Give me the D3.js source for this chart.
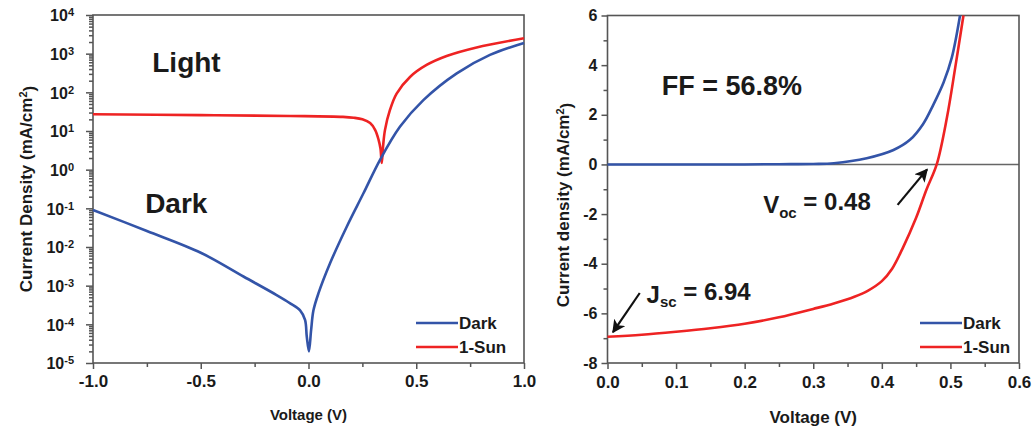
<!DOCTYPE html>
<html lang="en">
<head>
<meta charset="utf-8">
<script src="https://d3js.org/d3.v7.min.js"></script>
<style>
  body { margin: 0; background: #fff; }
  svg text { font-family: "Liberation Sans", Arial, sans-serif; font-weight: bold; fill: #1a1a1a; }
  .frame { fill: none; stroke: #555; stroke-width: 1.6; }
  .axis path { display: none; }
  .axis line { stroke: #555; stroke-width: 1.5; }
  .curve { fill: none; stroke-width: 2.6; stroke-linejoin: round; }
</style>
</head>
<body>
<svg width="1034" height="432"></svg>
<script>
// ---- left panel, log |J| against voltage
var darkLogV = [-1.0, -0.75, -0.5, -0.3, -0.15, -0.085, -0.039, -0.016, -0.008, 0.002, 0.012, 0.023, 0.046, 0.1, 0.178, 0.255, 0.332, 0.425, 0.533, 0.688, 0.842, 1.0];
var darkLogJ = [0.091, 0.026, 0.0071, 0.0017, 5.8e-4, 3.5e-4, 2.3e-4, 1.3e-4, 4.8e-5, 2e-5, 7e-5, 2.3e-4, 6.3e-4, 3.8e-3, 0.034, 0.245, 1.8, 13, 63, 310, 930, 1900];
var sunLogV = [-1.0, -0.5, -0.085, 0.16, 0.21, 0.25, 0.286, 0.309, 0.325, 0.334, 0.34, 0.346, 0.355, 0.378, 0.409, 0.471, 0.548, 0.641, 0.78, 1.0];
var sunLogJ = [27, 25.7, 24.5, 23.2, 22, 20, 16, 10.7, 6, 3.5, 1.5, 4, 10.7, 35, 93, 250, 510, 870, 1450, 2500];

// ---- right panel, linear J against voltage
var darkV = [0.0, 0.1, 0.2, 0.25, 0.3, 0.33, 0.378, 0.417, 0.441, 0.46, 0.475, 0.49, 0.502, 0.514];
var darkJ = [0.0, 0.0, 0.0, 0.01, 0.02, 0.05, 0.25, 0.58, 0.99, 1.62, 2.4, 3.3, 4.3, 6.0];
var sunV = [0.0, 0.05, 0.1, 0.15, 0.2, 0.25, 0.3, 0.33, 0.36, 0.38, 0.40, 0.415, 0.43, 0.45, 0.465, 0.48, 0.495, 0.507, 0.519];
var sunJ = [-6.94, -6.86, -6.74, -6.6, -6.42, -6.16, -5.82, -5.6, -5.33, -5.08, -4.7, -4.2, -3.4, -2.15, -1.02, 0.0, 1.9, 3.9, 6.0];

var seriesNames = ["Dark", "1-Sun"];
var seriesColors = ["#3354a8", "#ee2323"];

var leftXTicks = [-1.0, -0.5, 0.0, 0.5, 1.0];
var leftXMinor = [-0.75, -0.25, 0.25, 0.75];
var leftYExp = [-5, -4, -3, -2, -1, 0, 1, 2, 3, 4];
var rightXTicks = [0.0, 0.1, 0.2, 0.3, 0.4, 0.5, 0.6];
var rightXMinor = [0.05, 0.15, 0.25, 0.35, 0.45, 0.55];
var rightYTicks = [6, 4, 2, 0, -2, -4, -6, -8];
var rightYMinor = [5, 3, 1, -1, -3, -5, -7];

var svg = d3.select("svg");

function pairs(xs, ys) { return xs.map(function(x, i) { return [x, ys[i]]; }); }

// ================= left panel =================
var xL = d3.scaleLinear().domain([-1, 1]).range([93, 524]);
var yL = d3.scaleLog().domain([1e-5, 1e4]).range([363, 15]);

var minorLog = [];
leftYExp.slice(0, -1).forEach(function(e) {
  for (var m = 2; m <= 9; m++) minorLog.push(m * Math.pow(10, e));
});

svg.append("g").attr("class", "axis").attr("transform", "translate(0,363)")
  .call(d3.axisBottom(xL).tickValues(leftXTicks).tickSize(6).tickPadding(6).tickFormat(d3.format(".1f")))
  .selectAll("text").style("font-size", "17px").text(function(d) { return d3.format(".1f")(d).replace("−", "-"); });
svg.append("g").attr("class", "axis").attr("transform", "translate(0,363)")
  .call(d3.axisBottom(xL).tickValues(leftXMinor).tickSize(4).tickFormat(""));

var yAxL = svg.append("g").attr("class", "axis").attr("transform", "translate(93,0)")
  .call(d3.axisLeft(yL).tickValues(leftYExp.map(function(e) { return Math.pow(10, e); })).tickSize(7).tickPadding(12).tickFormat(""));
yAxL.selectAll(".tick text").each(function(d) {
  var t = d3.select(this).style("font-size", "16px").attr("dy", "0.36em");
  t.append("tspan").text("10");
  t.append("tspan").attr("dy", "-0.45em").style("font-size", "11px").text(Math.round(Math.log10(d)));
});
svg.append("g").attr("class", "axis").attr("transform", "translate(93,0)")
  .call(d3.axisLeft(yL).tickValues(minorLog).tickSize(4).tickFormat(""));

svg.append("rect").attr("class", "frame").attr("x", 93).attr("y", 15).attr("width", 524 - 93).attr("height", 363 - 15);

var lineL = d3.line().x(function(d) { return xL(d[0]); }).y(function(d) { return yL(d[1]); }).curve(d3.curveCatmullRom.alpha(0.5));
svg.append("path").attr("class", "curve").attr("stroke", seriesColors[1]).attr("d", lineL(pairs(sunLogV, sunLogJ)));
svg.append("path").attr("class", "curve").attr("stroke", seriesColors[0]).attr("d", lineL(pairs(darkLogV, darkLogJ)));

svg.append("text").attr("x", xL(-0.725)).attr("y", yL(340)).style("font-size", "28px").text("Light");
svg.append("text").attr("x", xL(-0.758)).attr("y", yL(0.076)).style("font-size", "28px").text("Dark");

svg.append("text").attr("x", (93 + 524) / 2).attr("y", 420).attr("text-anchor", "middle")
  .style("font-size", "15px").text("Voltage (V)");
var ylabL = svg.append("text").attr("transform", "translate(32,189) rotate(-90)").attr("text-anchor", "middle")
  .style("font-size", "17px");
ylabL.append("tspan").text("Current Density (mA/cm");
ylabL.append("tspan").attr("dy", "-0.5em").style("font-size", "11px").text("2");
ylabL.append("tspan").attr("dy", "0.5em").text(")");

function legend(x0, y0) {
  seriesNames.forEach(function(name, i) {
    var y = y0 + i * 24;
    svg.append("line").attr("x1", x0).attr("x2", x0 + 42).attr("y1", y).attr("y2", y)
      .attr("stroke", seriesColors[i]).attr("stroke-width", 2.6);
    svg.append("text").attr("x", x0 + 43).attr("y", y + 6).style("font-size", "17px").text(name);
  });
}
legend(416, 323);

// ================= right panel =================
var xR = d3.scaleLinear().domain([0, 0.6]).range([607.5, 1019]);
var yR = d3.scaleLinear().domain([-8, 6]).range([363, 15.5]);

svg.append("g").attr("class", "axis").attr("transform", "translate(0,363)")
  .call(d3.axisBottom(xR).tickValues(rightXTicks).tickSize(6).tickPadding(7).tickFormat(d3.format(".1f")))
  .selectAll("text").style("font-size", "17px");
svg.append("g").attr("class", "axis").attr("transform", "translate(0,363)")
  .call(d3.axisBottom(xR).tickValues(rightXMinor).tickSize(4).tickFormat(""));
svg.append("g").attr("class", "axis").attr("transform", "translate(607.5,0)")
  .call(d3.axisLeft(yR).tickValues(rightYTicks).tickSize(6).tickPadding(4).tickFormat(function(d) { return String(d); }))
  .selectAll("text").style("font-size", "16px");
svg.append("g").attr("class", "axis").attr("transform", "translate(607.5,0)")
  .call(d3.axisLeft(yR).tickValues(rightYMinor).tickSize(4).tickFormat(""));

svg.append("line").attr("x1", xR(0)).attr("x2", xR(0.6)).attr("y1", yR(0)).attr("y2", yR(0))
  .attr("stroke", "#666").attr("stroke-width", 1.5);
svg.append("rect").attr("class", "frame").attr("x", 607.5).attr("y", 15.5).attr("width", 1019 - 607.5).attr("height", 363 - 15.5);

var lineR = d3.line().x(function(d) { return xR(d[0]); }).y(function(d) { return yR(d[1]); }).curve(d3.curveCatmullRom.alpha(0.5));
svg.append("path").attr("class", "curve").attr("stroke", seriesColors[0]).attr("d", lineR(pairs(darkV, darkJ)));
svg.append("path").attr("class", "curve").attr("stroke", seriesColors[1]).attr("d", lineR(pairs(sunV, sunJ)));

svg.append("text").attr("x", xR(0.079)).attr("y", yR(2.8)).style("font-size", "27px").text("FF = 56.8%");

var voc = svg.append("text").attr("x", xR(0.227)).attr("y", yR(-1.96)).style("font-size", "24px");
voc.append("tspan").text("V");
voc.append("tspan").attr("dy", "0.3em").style("font-size", "15px").text("oc");
voc.append("tspan").attr("dy", "-0.3em").text(" = 0.48");

var jsc = svg.append("text").attr("x", xR(0.057)).attr("y", yR(-5.58)).style("font-size", "24px");
jsc.append("tspan").text("J");
jsc.append("tspan").attr("dy", "0.3em").style("font-size", "15px").text("sc");
jsc.append("tspan").attr("dy", "-0.3em").text(" = 6.94");

svg.append("defs").append("marker").attr("id", "arr").attr("viewBox", "0 0 10 10")
  .attr("refX", 9).attr("refY", 5).attr("markerWidth", 6).attr("markerHeight", 6).attr("orient", "auto")
  .attr("markerUnits", "strokeWidth")
  .append("path").attr("d", "M0,0 L10,5 L0,10 L2.5,5 z").attr("fill", "#111");

function arrow(v0, j0, v1, j1) {
  svg.append("line").attr("x1", xR(v0)).attr("y1", yR(j0)).attr("x2", xR(v1)).attr("y2", yR(j1))
    .attr("stroke", "#111").attr("stroke-width", 2.2).attr("marker-end", "url(#arr)");
}
arrow(0.423, -1.63, 0.466, -0.2);
arrow(0.047, -5.18, 0.008, -6.76);

svg.append("text").attr("x", (607.5 + 1019) / 2).attr("y", 423).attr("text-anchor", "middle")
  .style("font-size", "17px").text("Voltage (V)");
var ylabR = svg.append("text").attr("transform", "translate(569,205) rotate(-90)").attr("text-anchor", "middle")
  .style("font-size", "17px");
ylabR.append("tspan").text("Current density (mA/cm");
ylabR.append("tspan").attr("dy", "-0.5em").style("font-size", "11px").text("2");
ylabR.append("tspan").attr("dy", "0.5em").text(")");

legend(920, 323);
</script>
</body>
</html>
